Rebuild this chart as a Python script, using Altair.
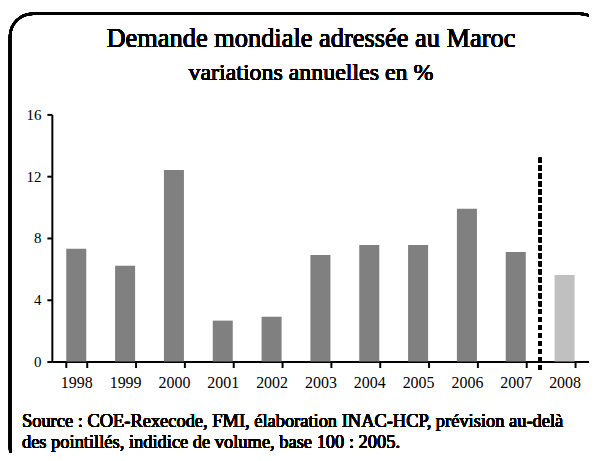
import altair as alt
import pandas as pd

years = ["1998", "1999", "2000", "2001", "2002", "2003", "2004", "2005", "2006", "2007", "2008"]
values = [7.3, 6.2, 12.4, 2.65, 2.9, 6.9, 7.55, 7.55, 9.9, 7.1, 5.6]
kinds = ["obs"] * 10 + ["prev"]
y_ticks = [0, 4, 8, 12, 16]
title_text = "Demande mondiale adressée au Maroc"
subtitle_text = "variations annuelles en %"
source_lines = [
    "Source : COE-Rexecode, FMI, élaboration INAC-HCP, prévision au-delà",
    "des pointillés, indidice de volume, base 100 : 2005.",
]

df = pd.DataFrame({"year": years, "value": values, "kind": kinds})
FONT = "Liberation Serif"
W, H = 539, 248

bars = alt.Chart(df).mark_bar().encode(
    x=alt.X("year:N", sort=years, title=None,
            scale=alt.Scale(paddingInner=0.59, paddingOuter=0.295),
            axis=alt.Axis(labelAngle=0, tickBand="extent", domainColor="black",
                          domainWidth=2, tickColor="black", tickWidth=2, tickSize=6,
                          labelFont=FONT, labelFontSize=16, labelColor="black",
                          labelPadding=7, grid=False)),
    y=alt.Y("value:Q", title=None,
            scale=alt.Scale(domain=[0, 16], nice=False),
            axis=alt.Axis(values=y_ticks, domainColor="black", domainWidth=2,
                          tickColor="black", tickWidth=2, tickSize=5,
                          labelFont=FONT, labelFontSize=15, labelColor="black",
                          labelPadding=6, grid=False)),
    color=alt.Color("kind:N", scale=alt.Scale(domain=["obs", "prev"], range=["#808080", "#c0c0c0"]),
                    legend=None),
)

rule = alt.Chart(df).mark_rule(color="black", strokeWidth=3, strokeDash=[5, 3]).encode(
    x=alt.datum(10, type="quantitative", scale=alt.Scale(domain=[0, 11], nice=False), axis=None),
    y=alt.datum(13.2, type="quantitative"),
    y2=alt.datum(-0.65),
)

frame = alt.Chart(df).mark_rect(fill=None, stroke="black", strokeWidth=2.5, cornerRadius=23).encode(
    x=alt.value(-42), x2=alt.value(553), y=alt.value(-101), y2=alt.value(357)
)

title = alt.Chart(df).mark_text(text=title_text, font=FONT, fontSize=26.5, align="center",
                                baseline="alphabetic", color="black").encode(
    x=alt.value(260), y=alt.value(-68))
subtitle = alt.Chart(df).mark_text(text=subtitle_text, font=FONT, fontSize=24, align="center",
                                   baseline="alphabetic", color="black").encode(
    x=alt.value(260), y=alt.value(-35))
src1 = alt.Chart(df).mark_text(text=source_lines[0], font=FONT, fontSize=18.5, align="left",
                               baseline="alphabetic", color="black").encode(
    x=alt.value(-30), y=alt.value(314))
src2 = alt.Chart(df).mark_text(text=source_lines[1], font=FONT, fontSize=18.5, align="left",
                               baseline="alphabetic", color="black").encode(
    x=alt.value(-30), y=alt.value(335))

chart = alt.layer(frame, bars, rule, title, subtitle, src1, src2).resolve_scale(
    x="independent", color="independent"
).properties(
    width=W, height=H,
    autosize=alt.AutoSizeParams(type="none"),
    padding={"left": 44, "top": 106, "right": 0, "bottom": 91},
    background="white",
).configure_view(stroke=None)

chart.save("out.html", embed_options={"renderer": "svg", "actions": False})
